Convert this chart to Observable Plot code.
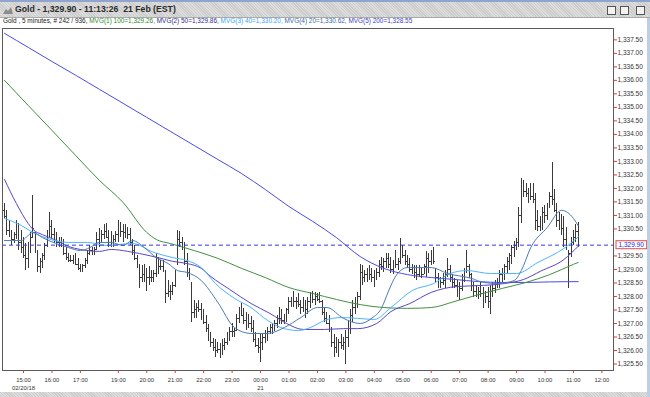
<!DOCTYPE html>
<html><head><meta charset="utf-8">
<script src="https://cdn.jsdelivr.net/npm/d3@7"></script>
<script src="https://cdn.jsdelivr.net/npm/@observablehq/plot@0.6"></script>
<style>
body{margin:0;width:650px;height:397px;overflow:hidden;background:#fff;position:relative;font-family:"Liberation Sans",Arial,sans-serif;}
#tb{position:absolute;left:0;top:0;width:650px;height:15px;border-top:2px solid #8ea6cf;border-bottom:1px solid #a9a9a9;
 background:repeating-linear-gradient(45deg,#dedede 0 1px,#cbcbcb 1px 2px);}
#title{position:absolute;left:15px;top:2px;font-weight:bold;font-size:8.7px;color:#2a2a2a;white-space:pre;line-height:11px;}
.btn{position:absolute;top:4px;width:7px;height:7px;border:1px solid #555;background:#f2f2f2;}
#legend{position:absolute;left:3px;top:17px;font-size:6.45px;line-height:8px;white-space:pre;}
#chart{position:absolute;left:0;top:27px;}
#bot{position:absolute;left:0;top:392px;width:650px;height:5px;background:repeating-linear-gradient(45deg,#dedede 0 1px,#cbcbcb 1px 2px);}
#rs{position:absolute;left:647px;top:18px;width:3px;height:379px;background:#bccfe9;}
</style></head>
<body>
<div id="tb">
 <svg style="position:absolute;left:3px;top:4px" width="10" height="8"><polygon points="0,8 3,3 5,5 8,1 10,8" fill="#8c8c8c"/></svg>
 <div id="title">Gold - 1,329.90 - 11:13:26  21 Feb (EST)</div>
 <div class="btn" style="left:607px"></div>
 <div class="btn" style="left:620px"></div>
 <div class="btn" style="left:636px"></div>
</div>
<div id="legend"><span style="color:#202020">Gold , 5 minutes, # 242 / 936, </span><span style="color:#2e8a2e">MVG(1) 100=1,329.26, </span><span style="color:#2c2c8c">MVG(2) 50=1,329.86, </span><span style="color:#3aa2ff">MVG(3) 40=1,330.20, </span><span style="color:#3a68a8">MVG(4) 20=1,330.62, </span><span style="color:#3c3cc8">MVG(5) 200=1,328.55</span></div>
<div id="chart"></div>
<div id="bot"></div>
<div id="rs"></div>
<script>
// 5-minute OHLC bars, index 0 = 14:20 (20 Feb)
const high = [1331.45,1331.2,1330.8,1330.45,1330.35,1330.8,1330.7,1330.45,1330.2,1329.95,
1330.0,1330.35,1331.75,1330.35,1329.7,1329.4,1329.6,1329.95,1330.45,1331.1,
1330.8,1330.5,1330.35,1330.2,1330.2,1330.1,1329.8,1329.6,1329.5,1329.5,
1329.6,1329.4,1329.2,1329.2,1329.4,1329.7,1329.9,1329.8,1329.8,1330.35,
1330.5,1330.45,1330.65,1330.7,1330.45,1330.4,1330.25,1330.4,1330.8,1330.75,
1330.65,1330.65,1330.55,1330.5,1330.1,1329.9,1329.5,1329.2,1329.15,1329.2,
1329.05,1329.1,1328.95,1328.95,1329.6,1329.45,1329.35,1329.35,1328.95,1328.6,
1328.4,1328.5,1328.95,1330.45,1330.4,1330.2,1330.0,1329.6,1329.05,1328.5,
1327.85,1327.75,1327.85,1327.75,1327.5,1327.3,1326.95,1326.65,1326.45,1326.4,
1326.3,1326.25,1326.4,1326.45,1326.65,1326.85,1327.0,1326.8,1327.35,1327.6,
1327.75,1327.55,1327.4,1327.35,1327.25,1327.1,1326.65,1326.45,1326.6,1326.6,
1326.75,1326.85,1326.95,1327.0,1327.1,1327.3,1327.6,1327.5,1327.35,1327.55,
1327.95,1327.95,1328.2,1327.95,1328.1,1327.85,1327.95,1327.85,1327.95,1328.15,
1328.2,1328.15,1328.1,1328.15,1327.85,1327.6,1327.4,1327.3,1326.85,1326.6,
1326.5,1326.4,1326.6,1326.5,1326.75,1327.1,1327.5,1327.85,1327.95,1328.15,
1329.2,1329.15,1328.95,1329.05,1329.15,1329.05,1328.95,1329.05,1329.35,1329.45,
1329.4,1329.6,1329.6,1329.45,1329.35,1329.7,1329.4,1330.15,1329.9,1329.7,
1329.5,1329.4,1329.2,1329.15,1329.15,1329.15,1329.05,1329.2,1329.65,1329.6,
1329.7,1329.8,1329.05,1328.85,1328.7,1328.85,1328.95,1329.4,1329.15,1328.8,
1328.65,1328.6,1328.5,1328.8,1329.05,1329.7,1329.2,1328.85,1328.5,1328.4,
1328.35,1328.5,1328.35,1328.2,1328.35,1328.4,1328.5,1328.6,1328.65,1328.95,
1329.05,1329.2,1329.45,1329.6,1329.9,1330.05,1330.15,1331.3,1332.35,1332.3,
1332.2,1332.0,1332.2,1332.2,1331.8,1331.2,1330.95,1331.3,1331.35,1331.45,
1331.85,1332.95,1331.95,1331.45,1331.1,1331.05,1330.95,1330.55,1329.7,1330.2,
1330.45,1330.65,1330.75];
const low = [1330.9,1330.25,1330.2,1329.9,1329.95,1330.1,1329.7,1329.6,1329.4,1328.95,
1329.05,1329.6,1330.2,1329.6,1328.9,1328.85,1329.05,1329.35,1329.8,1330.2,
1330.15,1329.95,1329.8,1329.8,1329.8,1329.5,1329.35,1329.25,1329.25,1329.2,
1329.15,1328.95,1328.9,1328.9,1329.05,1329.2,1329.5,1329.5,1329.5,1329.7,
1329.8,1330.0,1330.1,1330.15,1329.8,1329.8,1329.8,1330.0,1330.0,1330.2,
1330.0,1330.15,1330.1,1329.9,1329.5,1329.35,1329.05,1328.3,1328.5,1328.5,
1328.2,1328.4,1328.5,1328.5,1328.7,1328.8,1328.95,1328.9,1327.75,1327.95,
1327.85,1328.05,1328.35,1329.2,1329.8,1329.7,1329.15,1328.7,1328.6,1327.05,
1327.2,1327.2,1327.4,1327.1,1326.95,1326.65,1326.35,1326.1,1325.95,1325.75,
1325.9,1325.7,1325.8,1326.0,1326.2,1326.35,1326.5,1326.5,1326.75,1327.0,
1327.25,1326.95,1326.75,1326.8,1326.65,1326.3,1326.1,1325.9,1325.55,1326.0,
1326.25,1326.35,1326.6,1326.6,1326.7,1326.8,1326.95,1326.95,1326.95,1327.05,
1327.35,1327.6,1327.6,1327.5,1327.6,1327.35,1327.4,1327.2,1327.35,1327.55,
1327.75,1327.65,1327.8,1327.75,1327.3,1327.05,1326.95,1326.65,1326.1,1325.75,
1325.9,1325.75,1326.05,1326.0,1325.5,1326.1,1326.6,1327.05,1327.35,1327.55,
1327.85,1328.4,1328.5,1328.5,1328.6,1328.5,1328.35,1328.6,1328.7,1328.95,
1328.9,1329.05,1329.05,1328.85,1328.8,1329.05,1328.95,1329.2,1329.4,1329.15,
1329.05,1328.9,1328.8,1328.65,1328.6,1328.7,1328.65,1328.8,1328.7,1328.85,
1329.15,1329.2,1328.5,1328.3,1328.3,1328.4,1328.3,1328.7,1328.5,1328.3,
1328.3,1327.95,1327.85,1328.2,1328.5,1328.85,1328.65,1328.2,1327.95,1327.95,
1327.9,1327.95,1327.55,1327.75,1327.55,1327.35,1327.95,1328.1,1328.3,1328.3,
1328.5,1328.6,1328.8,1328.95,1329.2,1329.45,1329.7,1329.8,1330.7,1331.65,
1331.65,1331.45,1331.55,1331.45,1330.45,1330.4,1330.4,1330.45,1330.7,1330.8,
1331.25,1331.35,1331.1,1330.55,1330.45,1330.25,1329.8,1329.7,1328.3,1329.45,
1329.9,1330.0,1329.8];
const open = [1331.2,1330.95,1330.45,1330.3,1330.1,1330.3,1330.4,1330.0,1329.8,1329.5,
1329.4,1329.8,1330.2,1330.35,1329.7,1329.1,1329.3,1329.5,1329.9,1330.4,
1330.6,1330.3,1330.1,1330.0,1330.0,1329.9,1329.6,1329.45,1329.35,1329.35,
1329.3,1329.2,1329.05,1329.0,1329.15,1329.35,1329.6,1329.7,1329.6,1329.75,
1330.1,1330.2,1330.3,1330.4,1330.2,1330.0,1330.1,1330.1,1330.3,1330.5,
1330.4,1330.35,1330.4,1330.3,1330.0,1329.7,1329.4,1329.1,1328.7,1328.8,
1328.6,1328.7,1328.7,1328.7,1328.85,1329.2,1329.1,1329.1,1328.95,1328.1,
1328.2,1328.2,1328.4,1329.2,1330.1,1330.0,1329.9,1329.3,1328.9,1328.5,
1327.4,1327.5,1327.6,1327.5,1327.2,1327.05,1326.8,1326.5,1326.3,1326.1,
1326.0,1326.05,1326.1,1326.2,1326.3,1326.5,1326.7,1326.7,1326.75,1327.2,
1327.4,1327.3,1327.1,1327.1,1327.0,1326.8,1326.4,1326.2,1326.1,1326.3,
1326.5,1326.6,1326.7,1326.85,1326.9,1327.0,1327.2,1327.2,1327.1,1327.3,
1327.5,1327.8,1327.7,1327.8,1327.8,1327.7,1327.6,1327.6,1327.5,1327.8,
1328.0,1327.9,1328.0,1327.9,1327.8,1327.4,1327.2,1327.0,1326.8,1326.3,
1326.1,1326.0,1326.3,1326.2,1326.3,1326.5,1326.9,1327.3,1327.6,1327.8,
1328.0,1328.9,1328.7,1328.8,1328.9,1328.8,1328.7,1328.8,1328.9,1329.2,
1329.1,1329.3,1329.4,1329.2,1329.0,1329.3,1329.2,1329.3,1329.7,1329.5,
1329.3,1329.2,1329.0,1328.9,1328.9,1328.8,1328.9,1328.8,1329.1,1329.4,
1329.3,1329.5,1329.05,1328.7,1328.5,1328.5,1328.6,1328.8,1329.0,1328.7,
1328.5,1328.4,1328.2,1328.3,1328.6,1328.9,1329.1,1328.8,1328.4,1328.2,
1328.1,1328.2,1328.1,1327.9,1328.0,1327.8,1328.2,1328.3,1328.5,1328.5,
1328.8,1328.9,1329.1,1329.3,1329.5,1329.8,1329.9,1330.0,1331.0,1332.0,
1331.9,1331.8,1331.9,1331.7,1331.6,1330.8,1330.6,1330.8,1331.1,1331.0,
1331.3,1331.7,1331.6,1331.2,1330.8,1330.7,1330.5,1330.1,1329.7,1329.6,
1330.0,1330.2,1330.4];
const close = [1330.95,1330.45,1330.3,1330.1,1330.3,1330.4,1330.0,1329.8,1329.5,1329.4,
1329.8,1330.2,1330.5,1329.7,1329.1,1329.3,1329.5,1329.9,1330.4,1330.6,
1330.3,1330.1,1330.0,1330.0,1329.9,1329.6,1329.45,1329.35,1329.35,1329.3,
1329.2,1329.05,1329.0,1329.15,1329.35,1329.6,1329.7,1329.6,1329.75,1330.1,
1330.2,1330.3,1330.4,1330.2,1330.0,1330.1,1330.1,1330.3,1330.5,1330.4,
1330.35,1330.4,1330.3,1330.0,1329.7,1329.4,1329.1,1328.7,1328.8,1328.6,
1328.7,1328.7,1328.7,1328.85,1329.2,1329.1,1329.1,1329.0,1328.1,1328.2,
1328.2,1328.4,1328.9,1330.1,1330.0,1329.9,1329.3,1328.9,1328.7,1327.4,
1327.5,1327.6,1327.5,1327.2,1327.05,1326.8,1326.5,1326.3,1326.1,1326.0,
1326.05,1326.1,1326.2,1326.3,1326.5,1326.7,1326.7,1326.75,1327.2,1327.4,
1327.3,1327.1,1327.1,1327.0,1326.8,1326.4,1326.2,1326.1,1326.3,1326.5,
1326.6,1326.7,1326.85,1326.9,1327.0,1327.2,1327.2,1327.1,1327.3,1327.5,
1327.8,1327.7,1327.8,1327.8,1327.7,1327.6,1327.6,1327.5,1327.8,1328.0,
1327.9,1328.0,1327.9,1327.8,1327.4,1327.2,1327.0,1326.8,1326.3,1326.1,
1326.0,1326.3,1326.2,1326.3,1326.5,1326.9,1327.3,1327.6,1327.8,1328.0,
1328.9,1328.7,1328.8,1328.9,1328.8,1328.7,1328.8,1328.9,1329.2,1329.1,
1329.3,1329.4,1329.2,1329.0,1329.3,1329.2,1329.3,1329.7,1329.5,1329.3,
1329.2,1329.0,1328.9,1328.9,1328.8,1328.9,1328.8,1329.1,1329.4,1329.3,
1329.5,1329.3,1328.7,1328.5,1328.5,1328.6,1328.8,1329.0,1328.7,1328.5,
1328.4,1328.2,1328.3,1328.6,1328.9,1329.1,1328.8,1328.4,1328.2,1328.1,
1328.2,1328.1,1327.9,1328.0,1327.8,1328.2,1328.3,1328.5,1328.5,1328.8,
1328.9,1329.1,1329.3,1329.5,1329.8,1329.9,1330.0,1331.0,1332.0,1331.9,
1331.8,1331.9,1331.7,1331.6,1330.8,1330.6,1330.8,1331.1,1331.0,1331.3,
1331.7,1331.6,1331.2,1330.8,1330.7,1330.5,1330.1,1329.9,1329.6,1330.0,
1330.2,1330.4,1329.9];

// moving averages: [bar index, value]
const mvg1_100 = [[0,1336.0],[10,1335.07],[20,1334.15],[30,1333.22],[40,1332.3],[50,1331.48],[60,1330.37],[64,1330.11],[70,1329.96],[80,1329.7],[90,1329.41],[100,1329.04],[110,1328.7],[120,1328.33],[130,1328.11],[140,1327.89],[150,1327.7],[160,1327.59],[170,1327.56],[180,1327.59],[190,1327.82],[200,1328.07],[210,1328.3],[220,1328.52],[230,1328.81],[240,1329.19],[242,1329.26]];
const mvg2_50 = [[0,1332.33],[5,1331.44],[10,1330.7],[12,1330.48],[16,1330.29],[21,1330.11],[27,1329.85],[32,1329.74],[40,1329.67],[45,1329.74],[52,1329.67],[57,1329.59],[66,1329.41],[71,1329.3],[77,1329.22],[83,1329.04],[87,1328.74],[95,1328.26],[104,1327.74],[112,1327.37],[119,1327.0],[126,1326.78],[135,1326.78],[143,1326.81],[149,1326.81],[157,1327.0],[163,1327.44],[171,1327.74],[180,1328.15],[191,1328.37],[202,1328.41],[211,1328.48],[219,1328.63],[226,1328.93],[236,1329.37],[242,1329.86]];
const mvg3_40 = [[0,1330.89],[7,1330.63],[12,1330.37],[18,1330.15],[27,1330.0],[35,1330.0],[43,1329.89],[54,1329.96],[63,1329.63],[71,1329.44],[77,1329.33],[83,1329.07],[89,1328.48],[97,1327.93],[104,1327.59],[111,1327.11],[118,1326.81],[124,1326.74],[129,1326.85],[135,1327.11],[142,1327.22],[149,1327.19],[156,1327.15],[163,1327.59],[172,1328.22],[181,1328.48],[188,1328.85],[195,1328.96],[205,1328.85],[216,1328.85],[225,1329.26],[236,1329.78],[242,1330.2]];
const mvg4_20 = [[0,1330.07],[7,1330.07],[12,1330.37],[16,1330.18],[27,1329.81],[32,1329.7],[36,1329.81],[40,1330.0],[45,1330.0],[50,1329.89],[54,1330.07],[59,1329.81],[64,1329.44],[69,1329.22],[73,1328.96],[77,1328.89],[83,1328.59],[90,1327.78],[97,1326.85],[104,1326.63],[111,1326.63],[118,1326.85],[125,1327.22],[132,1327.59],[136,1327.59],[143,1327.19],[150,1327.0],[155,1327.2],[159,1327.56],[162,1328.2],[165,1328.75],[170,1329.07],[180,1329.07],[187,1328.85],[197,1328.67],[202,1328.52],[208,1328.48],[215,1328.59],[218,1328.96],[222,1329.81],[229,1330.56],[235,1331.19],[240,1330.89],[242,1330.62]];
const mvg5_200 = [[0,1337.74],[10,1337.22],[20,1336.7],[30,1336.19],[40,1335.67],[50,1335.15],[60,1334.63],[70,1334.11],[80,1333.59],[90,1333.07],[100,1332.55],[110,1331.96],[120,1331.33],[130,1330.78],[140,1330.18],[150,1329.48],[160,1329.04],[170,1328.81],[180,1328.7],[190,1328.63],[200,1328.55],[210,1328.52],[220,1328.52],[230,1328.54],[242,1328.55]];

const lastPrice = 1329.90;
const xTicks = [8,20,32,48,60,72,84,96,108,120,132,144,156,168,180,192,204,216,228,240,252];
const xLabels = ["15:00","16:00","17:00","19:00","20:00","21:00","22:00","23:00","00:00","01:00","02:00","03:00","04:00","05:00","06:00","07:00","08:00","09:00","10:00","11:00","12:00"];
const dateLabels = ["02/20/18","","","","","","","","21","","","","","","","","","","","",""];
const yTicks = [1325.5,1326,1326.5,1327,1327.5,1328,1328.5,1329,1329.5,1330.5,1331,1331.5,1332,1332.5,1333,1333.5,1334,1334.5,1335,1335.5,1336,1336.5,1337,1337.5];

const bars = high.map((h, i) => ({i, h, l: low[i], o: open[i], c: close[i]}));
const fmt = d3.format(",.2f");
const ma = (data, stroke) => Plot.line(data, {x: d => d[0], y: d => d[1], stroke, strokeWidth: 1, curve: "monotone-x", clip: true});

const chart = Plot.plot({
  width: 650, height: 365,
  marginTop: 1, marginBottom: 22, marginLeft: 2, marginRight: 37,
  style: {fontFamily: '"Liberation Sans", Arial, sans-serif', background: "transparent", overflow: "visible"},
  x: {domain: [-0.86, 256.9]},
  y: {domain: [1325.26, 1337.92]},
  marks: [
    Plot.ruleX(bars, {x: "i", y1: "l", y2: "h", stroke: "#3a3a3a", shapeRendering: "crispEdges"}),
    Plot.link(bars, {x1: d => d.i - 0.45, x2: "i", y1: "o", y2: "o", stroke: "#3a3a3a", shapeRendering: "crispEdges"}),
    Plot.link(bars, {x1: "i", x2: d => d.i + 0.45, y1: "c", y2: "c", stroke: "#3a3a3a", shapeRendering: "crispEdges"}),
    ma(mvg5_200, "#4b4be6"),
    ma(mvg1_100, "#3f9140"),
    ma(mvg2_50, "#5a46c4"),
    ma(mvg3_40, "#4cb4ff"),
    ma(mvg4_20, "#4a7cb8"),
    Plot.ruleY([lastPrice], {stroke: "#3535e6", strokeDasharray: "4,3"}),
    Plot.frame({stroke: "#5a5a5a"}),
    Plot.axisY({anchor: "right", ticks: yTicks, tickFormat: fmt, tickSize: 3, tickPadding: 1, stroke: "#e03c3c", fill: "#333", fontSize: 6.5, label: null}),
    Plot.axisX({anchor: "bottom", ticks: xTicks, tickFormat: d => { const k = xTicks.indexOf(d); return dateLabels[k] ? xLabels[k] + "\n" + dateLabels[k] : xLabels[k]; }, tickSize: 3, tickPadding: 2, stroke: "#e03c3c", fill: "#333", fontSize: 5.9, lineHeight: 1.45, label: null}),
    Plot.text([lastPrice], {y: d => d, frameAnchor: "right", dx: 5, textAnchor: "start", text: d => fmt(d), fill: "#2424e0", fontSize: 6.5})
  ]
});
document.getElementById("chart").appendChild(chart);

// box around the current price label
const pt = Array.from(chart.querySelectorAll("text")).find(e => e.textContent === fmt(lastPrice));
if (pt) {
  const b = pt.getBBox();
  const r = document.createElementNS("http://www.w3.org/2000/svg", "rect");
  r.setAttribute("x", b.x - 2.5); r.setAttribute("y", b.y - 0.5);
  r.setAttribute("width", b.width + 5); r.setAttribute("height", b.height + 1);
  r.setAttribute("fill", "#fff"); r.setAttribute("stroke", "#e04848");
  if (pt.getAttribute("transform")) r.setAttribute("transform", pt.getAttribute("transform"));
  pt.parentNode.insertBefore(r, pt);
}
</script>
</body></html>
